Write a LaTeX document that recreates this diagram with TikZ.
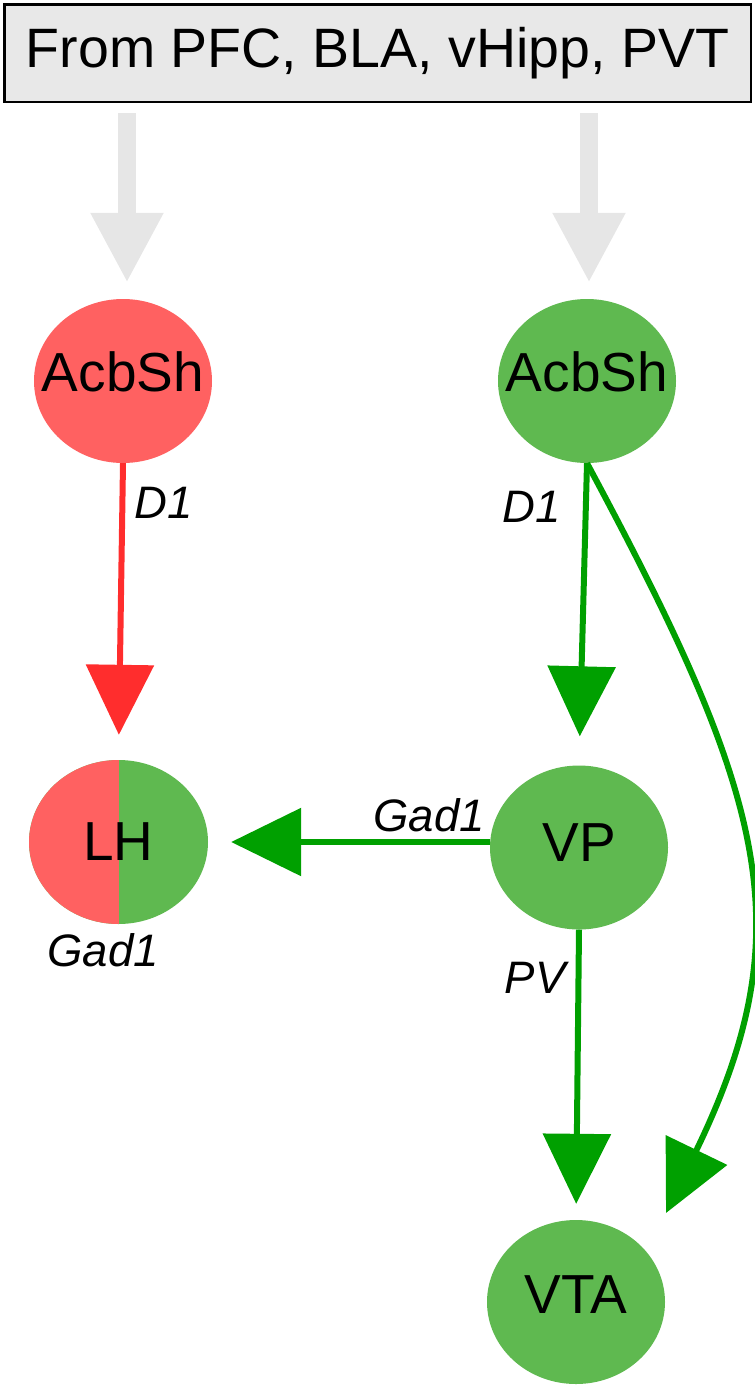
\documentclass[tikz,border=0pt]{standalone}
\usepackage{fontspec}
\setmainfont{Liberation Sans}
\usetikzlibrary{shapes.geometric,arrows.meta,calc}
\definecolor{redf}{RGB}{255,97,97}
\definecolor{greenf}{RGB}{95,185,80}
\definecolor{redl}{RGB}{255,45,45}
\definecolor{greenl}{RGB}{0,160,0}
\definecolor{grayc}{RGB}{230,230,230}
\definecolor{boxc}{RGB}{232,232,232}
\begin{document}
\begin{tikzpicture}[x=1pt,y=-1pt,
  region/.style={ellipse, minimum width=178pt, minimum height=164pt, inner sep=0pt},
  rtxt/.style={font=\fontsize{55}{62}\selectfont, text=black, inner sep=0pt},
  lbl/.style={font=\fontsize{45.5}{52}\selectfont\itshape, inner sep=0pt},
  garrow/.style={draw=grayc, line width=18pt, -{Triangle[length=70pt,width=68pt]}},
  gline/.style={draw=greenl, line width=6pt, -{Triangle[length=70pt,width=67pt]}},
  rline/.style={draw=redl, line width=6pt, -{Triangle[length=70pt,width=67pt]}}
]
\useasboundingbox (0,0) rectangle (755,1387);
% source box
\node[draw=black, line width=2.5pt, fill=boxc, minimum width=746.5pt, minimum height=97.5pt,
      inner sep=0pt, font=\fontsize{55.5}{62}\selectfont] (src) at (377.5,53) {From PFC, BLA, vHipp, PVT};
% regions
\node[region, fill=redf, label={[rtxt,yshift=9pt]center:AcbSh}] (acbR) at (123,381) {};
\node[region, fill=greenf, label={[rtxt,yshift=9pt]center:AcbSh}] (acbG) at (587,381) {};
\node[region, fill=greenf, minimum width=179pt,
      path picture={\fill[redf] (path picture bounding box.north west) rectangle (path picture bounding box.south);},
      label={[rtxt]center:LH}] (LH) at (118.5,842) {};
\node[region, fill=greenf, label={[rtxt,yshift=5pt]center:VP}] (VP) at (579,847.5) {};
\node[region, fill=greenf, label={[rtxt,yshift=7pt]center:VTA}] (VTA) at (576,1302) {};
% input arrows
\draw[garrow, shorten <=10pt, shorten >=16pt] ($(src.south -| acbR.north)+(4,0)$) -- ($(acbR.north)+(4,0)$);
\draw[garrow, shorten <=10pt, shorten >=16pt] ($(src.south -| acbG.north)+(2,0)$) -- ($(acbG.north)+(2,0)$);
% projections
\draw[rline, shorten >=25pt] (acbR.south) -- (LH.north);
\draw[gline, shorten >=29pt] (acbG.south) -- (VP.north);
\draw[gline, shorten >=23pt] (VP.west |- LH.east) -- (LH.east);
\draw[gline, shorten >=16pt] (VP.south) -- (VTA.north);
\coordinate (vtatip) at (666,1213);
\draw[gline] (acbG.south) .. controls (768,800) and (803,930) .. (vtatip);
% labels
\node[lbl] (d1l) at (163.5,502.5) {D1};
\node[lbl] (d1r) at (532,507) {D1};
\node[lbl] (gadh) at (429,815) {Gad1};
\node[lbl] (gadlh) at (103,950) {Gad1};
\node[lbl] (pv) at (535,978) {PV};
\end{tikzpicture}
\end{document}
